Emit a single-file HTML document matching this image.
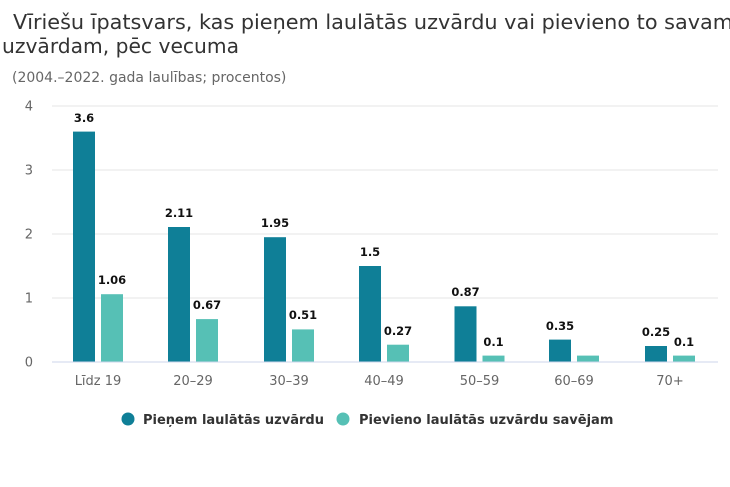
<!DOCTYPE html>
<html><head><meta charset="utf-8"><style>
html,body{margin:0;padding:0;background:#fff;overflow:hidden;}
svg{display:block;}
text{font-family:"DejaVu Sans","Liberation Sans",sans-serif;}
</style></head><body>
<svg width="730" height="487" viewBox="0 0 730 487" xmlns="http://www.w3.org/2000/svg">
<rect width="730" height="487" fill="#fff"/>
<text x="13" y="29" font-size="20.4" fill="#333" textLength="720" lengthAdjust="spacingAndGlyphs">Vīriešu īpatsvars, kas pieņem laulātās uzvārdu vai pievieno to savam</text>
<text x="2" y="53" font-size="20.2" fill="#333" textLength="237" lengthAdjust="spacingAndGlyphs">uzvārdam, pēc vecuma</text>
<text x="12" y="82" font-size="14" fill="#666">(2004.–2022. gada laulības; procentos)</text>
<g stroke="#e6e6e6" stroke-width="1">
<line x1="52" y1="106" x2="718" y2="106"/>
<line x1="52" y1="170" x2="718" y2="170"/>
<line x1="52" y1="234" x2="718" y2="234"/>
<line x1="52" y1="298" x2="718" y2="298"/>
</g>
<g font-size="13" fill="#666" text-anchor="end">
<text x="33" y="110.5">4</text>
<text x="33" y="174.5">3</text>
<text x="33" y="238.5">2</text>
<text x="33" y="302.5">1</text>
<text x="33" y="366.5">0</text>
</g>
<g fill="#0f7f97">
<rect x="73" y="131.6" width="22" height="230.4"/>
<rect x="168" y="227" width="22" height="135"/>
<rect x="264" y="237.2" width="22" height="124.8"/>
<rect x="359" y="266" width="22" height="96"/>
<rect x="454.5" y="306.3" width="22" height="55.7"/>
<rect x="549" y="339.6" width="22" height="22.4"/>
<rect x="645" y="346" width="22" height="16"/>
</g>
<g fill="#56c0b5">
<rect x="101" y="294.2" width="22" height="67.8"/>
<rect x="196" y="319.1" width="22" height="42.9"/>
<rect x="292" y="329.4" width="22" height="32.6"/>
<rect x="387" y="344.7" width="22" height="17.3"/>
<rect x="482.5" y="355.6" width="22" height="6.4"/>
<rect x="577" y="355.6" width="22" height="6.4"/>
<rect x="673" y="355.6" width="22" height="6.4"/>
</g>
<line x1="52" y1="362" x2="718" y2="362" stroke="#ccd6eb" stroke-width="1"/>
<g font-size="11.5" font-weight="bold" fill="#111" text-anchor="middle">
<text x="84" y="122">3.6</text>
<text x="112" y="284">1.06</text>
<text x="179" y="217">2.11</text>
<text x="207" y="309">0.67</text>
<text x="275" y="227">1.95</text>
<text x="303" y="319">0.51</text>
<text x="370" y="256">1.5</text>
<text x="398" y="335">0.27</text>
<text x="465.5" y="296">0.87</text>
<text x="493.5" y="346">0.1</text>
<text x="560" y="330">0.35</text>
<text x="656" y="336">0.25</text>
<text x="684" y="346">0.1</text>
</g>
<g font-size="13" fill="#666" text-anchor="middle">
<text x="98" y="385">Līdz 19</text>
<text x="193" y="385">20–29</text>
<text x="289" y="385">30–39</text>
<text x="384" y="385">40–49</text>
<text x="479.5" y="385">50–59</text>
<text x="574" y="385">60–69</text>
<text x="670" y="385">70+</text>
</g>
<circle cx="128" cy="419" r="6.5" fill="#0f7f97"/>
<text x="143" y="424" font-size="13" font-weight="bold" fill="#333">Pieņem laulātās uzvārdu</text>
<circle cx="343" cy="419" r="6.5" fill="#56c0b5"/>
<text x="359" y="424" font-size="13" font-weight="bold" fill="#333">Pievieno laulātās uzvārdu savējam</text>
</svg>
</body></html>
